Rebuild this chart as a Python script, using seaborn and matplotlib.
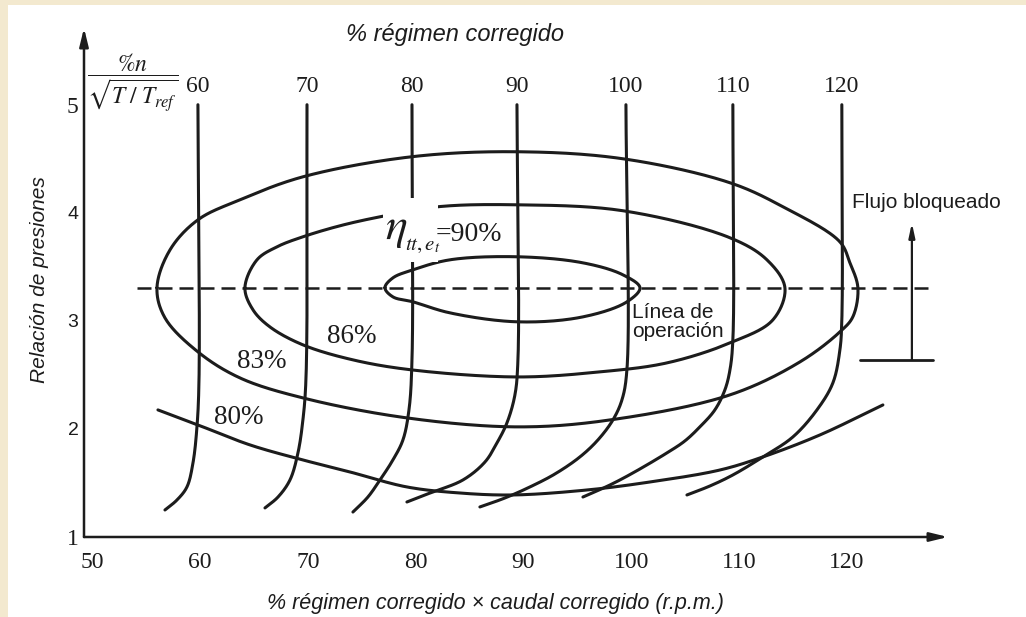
import numpy as np
import matplotlib
matplotlib.use("Agg")
import matplotlib.pyplot as plt
import seaborn as sns
from matplotlib.patches import Rectangle

# lineas de regimen corregido (% n)
speed_labels = ["60", "70", "80", "90", "100", "110", "120"]

n60_x = [59.81, 59.91, 59.72, 59.35, 58.79, 57.87, 56.75]
n60_y = [5.00, 2.454, 2.019, 1.685, 1.463, 1.343, 1.250]
n70_x = [69.93, 69.83, 69.55, 69.09, 68.35, 67.24, 66.03]
n70_y = [5.00, 2.454, 2.083, 1.778, 1.528, 1.370, 1.269]
n80_x = [79.67, 79.67, 79.39, 78.83, 77.90, 76.70, 75.58, 74.19]
n80_y = [5.00, 2.639, 2.176, 1.898, 1.713, 1.528, 1.370, 1.231]
n90_x = [89.41, 89.50, 89.22, 88.48, 87.55, 86.44, 84.40, 81.34, 79.20]
n90_y = [5.00, 2.639, 2.315, 2.056, 1.870, 1.694, 1.528, 1.407, 1.324]
n100_x = [99.52, 99.61, 99.15, 98.31, 96.92, 95.25, 92.93, 90.61, 88.29, 85.97]
n100_y = [5.00, 2.546, 2.269, 2.083, 1.898, 1.741, 1.583, 1.463, 1.361, 1.278]
n110_x = [109.44, 109.44, 109.17, 108.70, 107.77, 106.38, 104.99, 103.32, 100.17, 98.03, 95.53]
n110_y = [5.00, 2.824, 2.546, 2.361, 2.176, 2.019, 1.889, 1.778, 1.593, 1.481, 1.370]
n120_x = [119.55, 119.55, 119.37, 118.72, 117.24, 115.01, 112.23, 109.44, 107.31, 105.18]
n120_y = [5.00, 3.009, 2.731, 2.426, 2.176, 1.926, 1.741, 1.574, 1.472, 1.389]

# curvas de rendimiento
eff80_x = [56.10, 59.81, 64.64, 69.55, 73.91, 79.20, 84.12, 89.04, 95.90, 101.74, 108.24, 112.23, 117.51, 123.36]
eff80_y = [2.176, 2.037, 1.852, 1.713, 1.602, 1.463, 1.407, 1.389, 1.435, 1.509, 1.620, 1.741, 1.944, 2.222]

eff83_up_x = [56.01, 57.22, 59.81, 63.71, 69.55, 79.67, 89.41, 99.24, 109.17, 114.08, 119.37, 120.30, 121.04]
eff83_up_y = [3.306, 3.657, 3.935, 4.120, 4.333, 4.519, 4.565, 4.500, 4.278, 4.056, 3.731, 3.537, 3.306]
eff83_lo_x = [120.57, 119.37, 115.66, 109.17, 98.03, 89.50, 79.20, 69.55, 63.71, 59.81, 56.75, 56.01]
eff83_lo_y = [3.037, 2.898, 2.620, 2.315, 2.083, 2.019, 2.102, 2.287, 2.472, 2.713, 3.028, 3.306]

eff86_up_x = [64.17, 65.29, 67.14, 69.55, 72.99, 76.70, 82.08, 89.41, 99.24, 109.17, 112.60, 114.27]
eff86_up_y = [3.306, 3.565, 3.685, 3.778, 3.880, 3.963, 4.056, 4.074, 4.019, 3.769, 3.565, 3.306]
eff86_lo_x = [113.15, 109.17, 103.32, 97.11, 89.50, 79.67, 74.19, 69.55, 66.49, 64.92, 64.17]
eff86_lo_y = [3.009, 2.796, 2.611, 2.528, 2.481, 2.546, 2.639, 2.778, 2.944, 3.102, 3.306]

eff90_up_x = [77.16, 77.90, 79.76, 83.19, 89.50, 95.53, 99.24, 100.82]
eff90_up_y = [3.306, 3.398, 3.472, 3.565, 3.593, 3.537, 3.426, 3.306]
eff90_lo_x = [99.61, 95.53, 89.50, 83.19, 79.76, 77.90, 77.16]
eff90_lo_y = [3.176, 3.037, 2.991, 3.074, 3.176, 3.222, 3.306]

eff_labels = ["80%", "83%", "86%"]
eff_label_x = [63.62, 65.75, 74.10]
eff_label_y = [2.102, 2.620, 2.852]

# linea de operacion y flujo bloqueado
op_line_x = [54.16, 127.72]
op_line_y = 3.306
choke_x = 126.05
choke_y = [2.639, 3.907]
choke_bar_x = [121.22, 128.00]

ink = "#1c1c1c"
PX_X, PX_Y = 10.78, 108.0  # pixeles por unidad, para medir distancias


def smooth(xs, ys, closed=False, n=30):
    """Catmull-Rom centripeta por los puntos leidos (solo para dibujar)."""
    p = np.column_stack([np.asarray(xs) * PX_X, np.asarray(ys) * PX_Y])
    if closed:
        p = np.vstack([p[-1], p, p[0], p[1]])
    else:
        p = np.vstack([2 * p[0] - p[1], p, 2 * p[-1] - p[-2]])
    out = []
    for i in range(1, len(p) - 2):
        P0, P1, P2, P3 = p[i - 1], p[i], p[i + 1], p[i + 2]
        t0 = 0.0
        t1 = t0 + np.linalg.norm(P1 - P0) ** 0.5
        t2 = t1 + np.linalg.norm(P2 - P1) ** 0.5
        t3 = t2 + np.linalg.norm(P3 - P2) ** 0.5
        t = np.linspace(t1, t2, n, endpoint=False)[:, None]
        A1 = (t1 - t) / (t1 - t0) * P0 + (t - t0) / (t1 - t0) * P1
        A2 = (t2 - t) / (t2 - t1) * P1 + (t - t1) / (t2 - t1) * P2
        A3 = (t3 - t) / (t3 - t2) * P2 + (t - t2) / (t3 - t2) * P3
        B1 = (t2 - t) / (t2 - t0) * A1 + (t - t0) / (t2 - t0) * A2
        B2 = (t3 - t) / (t3 - t1) * A2 + (t - t1) / (t3 - t1) * A3
        out.append((t2 - t) / (t2 - t1) * B1 + (t - t1) / (t2 - t1) * B2)
    out.append(p[-2][None, :])
    out = np.vstack(out)
    return out[:, 0] / PX_X, out[:, 1] / PX_Y


def curve(ax, xs, ys, closed=False):
    sx, sy = smooth(xs, ys, closed)
    sns.lineplot(x=sx, y=sy, sort=False, estimator=None, ax=ax,
                 color=ink, lw=2.2, zorder=3)


sns.set_theme(style="white")
plt.rcParams["font.family"] = ["Liberation Sans", "DejaVu Sans"]
plt.rcParams["mathtext.fontset"] = "stix"

fig = plt.figure(figsize=(10.26, 6.17), dpi=100)
fig.patch.set_facecolor("#f3e9cf")
fig.add_artist(Rectangle((8 / 1026, 0), 1, 612 / 617, transform=fig.transFigure,
                         fc="white", ec="none", zorder=-5))

ax = fig.add_axes([84 / 1026, 80 / 617, 864 / 1026, 509 / 617])
ax.set_facecolor("none")
ax.set_xlim(49.24, 129.4)
ax.set_ylim(1, 5.71)
for s in ax.spines.values():
    s.set_visible(False)

# ejes con flecha
arrow = dict(arrowstyle="-|>,head_length=0.9,head_width=0.22", color=ink, lw=1.8,
             shrinkA=0, shrinkB=0)
ax.annotate("", xy=(1, 0), xytext=(0, 0), xycoords="axes fraction", arrowprops=arrow)
ax.annotate("", xy=(0, 1), xytext=(0, 0), xycoords="axes fraction", arrowprops=arrow)

ax.set_xticks(range(50, 121, 10))
ax.set_xticks(range(60, 121, 10), minor=True)
ax.set_yticks(range(1, 6))
ax.set_yticks(range(2, 6), minor=True)
ax.tick_params(which="major", length=0)
ax.tick_params(which="minor", direction="in", length=9, width=1.5, color=ink)
ax.tick_params(axis="x", which="major", pad=11, labelsize=17, labelcolor=ink)
ax.tick_params(axis="y", which="major", pad=4, labelsize=14, labelcolor=ink)
for lab in ax.get_xticklabels():
    lab.set_fontfamily("Liberation Serif")
# el 1 y el 5 del original van en letra con serifa
ylabs = ax.get_yticklabels()
for lab in (ylabs[0], ylabs[-1]):
    lab.set_fontfamily("Liberation Serif")
    lab.set_fontsize(17)

# regimen corregido
speed_x = [n60_x, n70_x, n80_x, n90_x, n100_x, n110_x, n120_x]
speed_y = [n60_y, n70_y, n80_y, n90_y, n100_y, n110_y, n120_y]
for lab, xs, ys in zip(speed_labels, speed_x, speed_y):
    curve(ax, xs, ys)
    ax.text(xs[0], 5.17, lab, ha="center", va="center", fontsize=17,
            family="Liberation Serif", color=ink)

# rendimiento
curve(ax, eff80_x, eff80_y)
curve(ax, eff83_up_x + eff83_lo_x[:-1], eff83_up_y + eff83_lo_y[:-1], closed=True)
curve(ax, eff86_up_x + eff86_lo_x[:-1], eff86_up_y + eff86_lo_y[:-1], closed=True)
curve(ax, eff90_up_x + eff90_lo_x[:-1], eff90_up_y + eff90_lo_y[:-1], closed=True)

for lab, x, y in zip(eff_labels, eff_label_x, eff_label_y):
    ax.text(x, y, lab, ha="center", va="center", fontsize=19.5,
            family="Liberation Serif", color=ink)

# linea de operacion
ax.plot(op_line_x, [op_line_y, op_line_y], color=ink, lw=1.8,
        ls=(0, (5.6, 2.8)), zorder=2)
ax.text(100.1, 2.99, "Línea de\noperación", ha="left", va="center", fontsize=15,
        color=ink, linespacing=0.95, zorder=5,
        bbox=dict(fc="white", ec="none", pad=0.5))

# flujo bloqueado
ax.annotate("", xy=(choke_x, choke_y[1]), xytext=(choke_x, choke_y[0]),
            arrowprops=dict(arrowstyle="-|>,head_length=0.7,head_width=0.15",
                            color=ink, lw=1.6, shrinkA=0, shrinkB=0))
ax.plot(choke_bar_x, [choke_y[0], choke_y[0]], color=ink, lw=2.0)
ax.text(127.4, 4.093, "Flujo bloqueado", ha="center", va="center", fontsize=15,
        color=ink)

# etiqueta de rendimiento isentropico con fondo blanco
ax.add_patch(Rectangle((76.98, 3.546), 5.1, 0.593, fc="white", ec="none", zorder=4))
ax.text(77.16, 3.86, r"$\eta$", ha="left", va="center", fontsize=33, color=ink, zorder=5)
ax.text(79.0, 3.70, r"$tt,e_t$", ha="left", va="center", fontsize=15, color=ink, zorder=5)
ax.text(81.9, 3.80, "=90%", ha="left", va="center", fontsize=20,
        family="Liberation Serif", color=ink, zorder=5)

ax.text(53.78, 5.2, r"$\dfrac{\%n}{\sqrt{T\;/\;T_{ref}}}$", ha="center", va="center",
        fontsize=17, color=ink)

fig.text(455 / 1026, 1 - 35 / 617, "% régimen corregido", ha="center", va="center",
         fontsize=17, style="italic", color=ink)
fig.text(495 / 1026, 1 - 603 / 617, "% régimen corregido × caudal corregido (r.p.m.)",
         ha="center", va="center", fontsize=15.5, style="italic", color=ink)
fig.text(40 / 1026, 1 - 280 / 617, "Relación de presiones", ha="center", va="center",
         rotation=90, fontsize=15, style="italic", color=ink)

fig.savefig("out.png", dpi=100, facecolor=fig.get_facecolor())
